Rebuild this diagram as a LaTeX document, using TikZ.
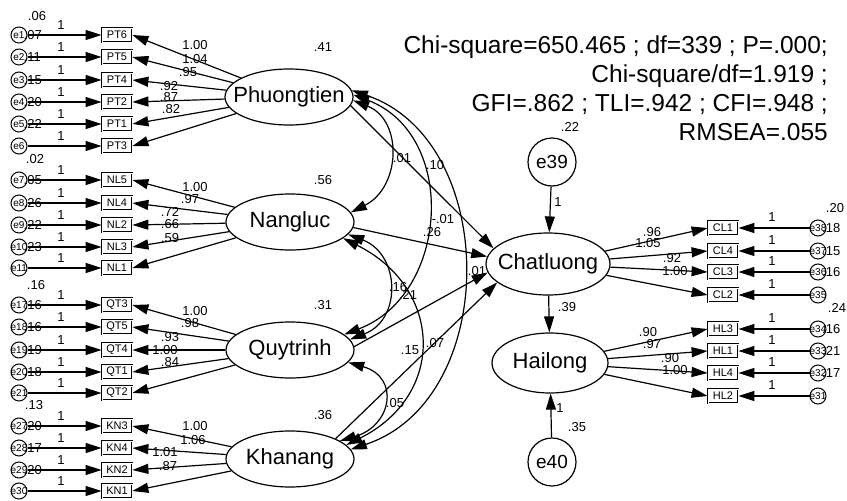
\documentclass[tikz,border=0pt]{standalone}
\usepackage{fontspec}
\setmainfont{Liberation Sans}
\usetikzlibrary{arrows.meta,shapes.geometric}
\begin{document}
\begin{tikzpicture}[x=1pt,y=-1pt,
 lat/.style={draw, ellipse, line width=1.2pt, minimum width=128pt, minimum height=56pt, inner sep=0pt, font=\fontsize{22}{24}\selectfont},
 obs/.style={draw, double, double distance=0.8pt, line width=0.8pt, minimum width=30pt, minimum height=14pt, inner sep=0pt, font=\fontsize{11}{12}\selectfont},
 err/.style={draw, circle, line width=1pt, minimum size=16pt, inner sep=0pt, font=\fontsize{10}{12}\selectfont},
 bigerr/.style={draw, circle, line width=1.2pt, minimum size=48pt, inner sep=0pt, font=\fontsize{19}{22}\selectfont},
 lbl/.style={inner sep=0pt, font=\fontsize{13}{14}\selectfont},
 arr/.style={line width=1.2pt, -{Triangle[length=16pt,width=10pt]}},
 dbl/.style={line width=1.2pt, {Triangle[length=16pt,width=10pt]}-{Triangle[length=16pt,width=10pt]}},
]
\useasboundingbox (0,0) rectangle (847,501);

% latent variables
\node[lat] (P) at (289,97) {\makebox[0pt]{Phuongtien}};
\node[lat] (N) at (290,222) {\makebox[0pt]{Nangluc}};
\node[lat] (Q) at (290,350) {\makebox[0pt]{Quytrinh}};
\node[lat] (K) at (290,459) {\makebox[0pt]{Khanang}};
\node[lat, minimum width=124pt, minimum height=62pt] (C) at (548,264) {\makebox[0pt]{Chatluong}};
\node[lat, minimum width=116pt, minimum height=60pt] (H) at (550,363) {\makebox[0pt]{Hailong}};
\node[bigerr] (e39) at (552,162) {\makebox[0pt]{e39}};
\node[bigerr] (e40) at (552,462) {\makebox[0pt]{e40}};

% partially hidden label behind arrowheads
\node[lbl] at (477,271) {.01};

% left indicators
\foreach \yy/\bx/\ee in {35/PT6/e1,57/PT5/e2,80/PT4/e3,102/PT2/e4,124/PT1/e5,146/PT3/e6,180/NL5/e7,203/NL4/e8,225/NL2/e9,247/NL3/e10,268/NL1/e11,305/QT3/e17,327/QT5/e18,350/QT4/e19,372/QT1/e20,393/QT2/e21,426/KN3/e27,448/KN4/e28,470/KN2/e29,491/KN1/e30}{
  \node[obs] (\bx) at (117,\yy) {\makebox[0pt]{\bx}};
  \node[err] (\ee) at (19,\yy) {\makebox[0pt]{\ee}};
  \draw[arr] (\ee) -- (\bx);
  \node[lbl] at (61,\yy-10) {1};
}
\foreach \yy/\vv in {35/.07,57/.11,80/.15,102/.20,124/.22,180/.05,203/.26,225/.22,247/.23,305/.16,327/.16,350/.19,372/.18,426/.20,448/.17,470/.20}
  \node[lbl, anchor=west] at (23.5,\yy) {\vv};
\node[lbl] at (37,16) {.06};
\node[lbl] at (35,159) {.02};
\node[lbl] at (36,285) {.16};
\node[lbl] at (34,405) {.13};

% right indicators
\foreach \yy/\bx/\ee in {228/CL1/e38,251/CL4/e37,272/CL3/e36,295/CL2/e35,329/HL3/e34,351/HL1/e33,373/HL4/e32,396/HL2/e31}{
  \node[obs] (\bx) at (723,\yy) {\makebox[0pt]{\bx}};
  \node[err] (\ee) at (818,\yy) {\makebox[0pt]{\ee}};
  \draw[arr] (\ee) -- (\bx);
  \node[lbl] at (772,\yy-11) {1};
}
\foreach \yy/\vv in {228/.18,251/.15,272/.16,329/.16,351/.21,373/.17}
  \node[lbl, anchor=west] at (822,\yy) {\vv};
\node[lbl] at (835,208) {.20};
\node[lbl] at (837,308) {.24};

% loadings
\foreach \bx in {PT6,PT5,PT4,PT2,PT1,PT3} \draw[arr] (P) -- (\bx.east);
\foreach \bx in {NL5,NL4,NL2,NL3,NL1} \draw[arr] (N) -- (\bx.east);
\foreach \bx in {QT3,QT5,QT4,QT1,QT2} \draw[arr] (Q) -- (\bx.east);
\foreach \bx in {KN3,KN4,KN2,KN1} \draw[arr] (K) -- (\bx.east);
\foreach \bx in {CL1,CL4,CL3,CL2} \draw[arr] (C) -- (\bx.west);
\foreach \bx in {HL3,HL1,HL4,HL2} \draw[arr] (H) -- (\bx.west);

% loading labels
\foreach \xx/\yy/\tt in {195/45/1.00,195/59/1.04,188/72/.95,169/86/.92,169/97/.87,171/109/.82,
  195/187/1.00,190/199/.97,170/212/.72,170/224/.66,170/238/.59,
  195/311/1.00,190/323/.98,170/337/.93,165/350/1.00,170/362/.84,
  195/426/1.00,193/440/1.06,165/452/1.01,168/466/.87,
  652/232/.96,648/243/1.05,672/258/.92,675/271/1.00,
  648/332/.90,652/344/.97,670/358/.90,675/370/1.00}
  \node[lbl] at (\xx,\yy) {\tt};

% variances of latents
\node[lbl] at (323,47) {.41};
\node[lbl] at (323,180) {.56};
\node[lbl] at (323,305) {.31};
\node[lbl] at (323,415) {.36};
\node[lbl] at (570,127) {.22};
\node[lbl] at (577,427) {.35};
\node[lbl] at (567,307) {.39};
\node[lbl] at (558,202) {1};
\node[lbl] at (560,408) {1};

% structural paths
\draw[arr] (P.-8) -- (C.164);
\draw[arr] (N.-5) -- (C.173);
\draw[arr] (Q.3) -- (C.-172);
\draw[arr] (K.24) -- (C.-160);
\draw[arr] (e39) -- (C);
\draw[arr] (C) -- (H);
\draw[arr] (e40) -- (H);

% covariances
\draw[dbl] (P.-3) .. controls +(50,20) and +(50,-25) .. (N.9);
\draw[dbl] (P.2) .. controls +(105,40) and +(105,-40) .. (Q.16);
\draw[dbl] (P.6) .. controls +(148,50) and +(150,-50) .. (K.9);
\draw[dbl] (N.-12) .. controls +(52,20) and +(52,-20) .. (Q.10);
\draw[dbl] (N.-17) .. controls +(100,50) and +(100,-50) .. (K.14);
\draw[dbl] (Q.-12) .. controls +(52,15) and +(52,-15) .. (K.20);

% path / covariance labels
\foreach \xx/\yy/\tt in {402/158/.01,435/165/.10,443/219/-.01,432/232/.26,398/287/.16,408/295/.21,410/350/.15,435/343/.07,395/403/.05}
  \node[lbl] at (\xx,\yy) {\tt};

% fit indices
\node[anchor=east, align=right, inner sep=0pt, font=\fontsize{24.5}{29}\selectfont] (fit) at (828,88.5)
  {Chi-square=650.465 ; df=339 ; P=.000;\\Chi-square/df=1.919 ;\\GFI=.862 ; TLI=.942 ; CFI=.948 ;\\RMSEA=.055};
\end{tikzpicture}
\end{document}
